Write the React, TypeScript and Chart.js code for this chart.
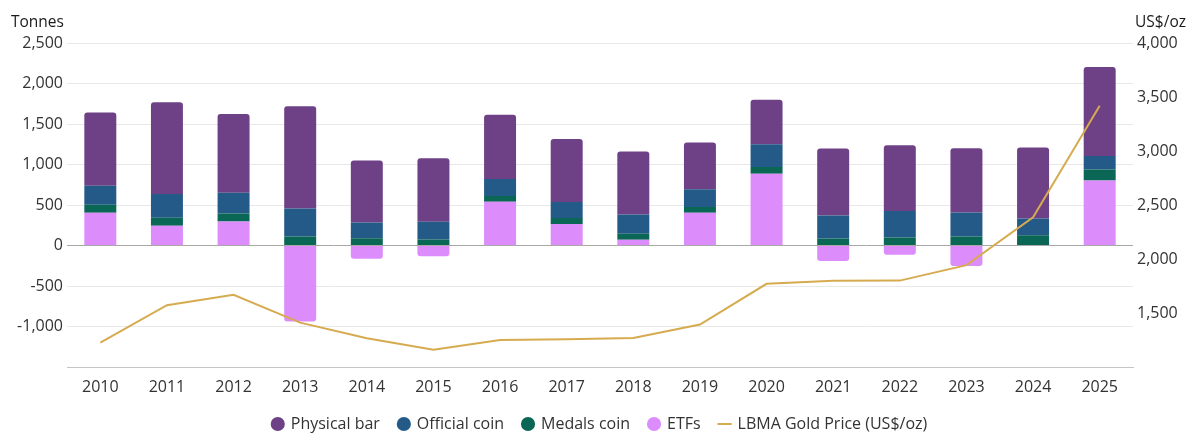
import { useEffect, useRef } from "react";
import { Chart, registerables } from "chart.js";

Chart.register(...registerables);

const years = [
  "2010", "2011", "2012", "2013", "2014", "2015", "2016", "2017",
  "2018", "2019", "2020", "2021", "2022", "2023", "2024", "2025",
];

// tonnes
const physicalBar = [903, 1135, 973, 1262, 763, 784, 792, 780, 776, 578, 548, 826, 813, 792, 875, 1098];
const officialCoin = [235, 292, 256, 347, 195, 219, 210, 198, 239, 219, 281, 284, 326, 297, 206, 168];
const medalsCoin = [99, 99, 99, 111, 90, 74, 70, 74, 75, 69, 82, 87, 99, 111, 128, 133];
const etfs = [405, 244, 297, -937, -165, -132, 541, 264, 70, 405, 887, -190, -115, -252, 0, 804];

// US$/oz
const goldPrice = [1226, 1572, 1669, 1411, 1266, 1160, 1251, 1257, 1268, 1393, 1770, 1799, 1800, 1943, 2386, 3420];

const FONT = "'Open Sans', 'Noto Sans', sans-serif";
const TEXT = "#333333";
const SIZE = 16;

// axis titles sit on top of the axes, not rotated
const axisTitles = {
  id: "axisTitles",
  afterDraw(chart: Chart) {
    const { ctx } = chart;
    ctx.save();
    ctx.font = `15.5px ${FONT}`;
    ctx.fillStyle = "#1a1a1a";
    ctx.textBaseline = "middle";
    ctx.textAlign = "left";
    ctx.fillText("Tonnes", 11, 23);
    ctx.textAlign = "right";
    ctx.fillText("US$/oz", 1186, 23);
    ctx.restore();
  },
};

export default function App() {
  const canvasRef = useRef<HTMLCanvasElement>(null);
  const chartRef = useRef<Chart | null>(null);

  useEffect(() => {
    if (!canvasRef.current) return;
    const ctx = canvasRef.current.getContext("2d");
    if (!ctx) return;

    if (chartRef.current) {
      chartRef.current.destroy();
      chartRef.current = null;
    }

    const barCommon = {
      type: "bar" as const,
      yAxisID: "y",
      stack: "demand",
      barPercentage: 0.48,
      categoryPercentage: 1,
      borderWidth: 0,
    };

    chartRef.current = new Chart(ctx, {
      type: "bar",
      data: {
        labels: years,
        datasets: [
          {
            ...barCommon,
            label: "Physical bar",
            data: physicalBar,
            backgroundColor: "#6e4186",
            borderRadius: 3,
            order: 4,
          },
          {
            ...barCommon,
            label: "Official coin",
            data: officialCoin,
            backgroundColor: "#245a87",
            order: 3,
          },
          {
            ...barCommon,
            label: "Medals coin",
            data: medalsCoin,
            backgroundColor: "#0a6655",
            order: 2,
          },
          {
            ...barCommon,
            label: "ETFs",
            data: etfs,
            backgroundColor: "#dc8cfb",
            borderRadius: (c: any) => ((c.raw ?? 0) < 0 ? 3 : 0),
            order: 1,
          },
          {
            type: "line",
            label: "LBMA Gold Price (US$/oz)",
            data: goldPrice,
            yAxisID: "y1",
            borderColor: "#d6ab50",
            backgroundColor: "#d6ab50",
            borderWidth: 2,
            pointRadius: 0,
            pointStyle: "line",
            tension: 0,
            order: 0,
          } as any,
        ],
      },
      options: {
        responsive: true,
        maintainAspectRatio: false,
        animation: false,
        layout: { padding: { top: 43, left: 0, right: 0, bottom: 4 } },
        plugins: {
          tooltip: { enabled: false },
          legend: {
            position: "bottom",
            labels: {
              sort: (a, b) => (a.datasetIndex ?? 0) - (b.datasetIndex ?? 0),
              usePointStyle: true,
              boxWidth: 10,
              boxHeight: 10,
              padding: 19,
              color: TEXT,
              font: { family: FONT, size: SIZE },
            },
          },
        },
        scales: {
          x: {
            afterFit: (s: any) => {
              s.height = 30;
            },
            grid: { display: false, drawTicks: false },
            border: { display: true, color: "#c4c4c4" },
            ticks: {
              color: TEXT,
              padding: 11,
              font: { family: FONT, size: SIZE },
            },
          },
          y: {
            position: "left",
            stacked: true,
            min: -1500,
            max: 2500,
            afterFit: (s: any) => {
              s.width = 67;
            },
            border: { display: false },
            grid: {
              drawTicks: false,
              color: (c: any) => (c.tick && c.tick.value === 0 ? "#a8a8a8" : "#e8e8e8"),
            },
            ticks: {
              stepSize: 500,
              padding: 4,
              color: TEXT,
              font: { family: FONT, size: SIZE },
              callback: (v: any) => (Number(v) === -1500 ? "" : Number(v).toLocaleString("en-US")),
            },
          },
          y1: {
            position: "right",
            min: 1000,
            max: 4000,
            afterFit: (s: any) => {
              s.width = 67;
            },
            border: { display: false },
            grid: { display: false, drawTicks: false },
            ticks: {
              stepSize: 500,
              padding: 4,
              color: TEXT,
              font: { family: FONT, size: SIZE },
              callback: (v: any) => (Number(v) === 1000 ? "" : Number(v).toLocaleString("en-US")),
            },
          },
        },
      },
      plugins: [axisTitles],
    });

    return () => {
      if (chartRef.current) {
        chartRef.current.destroy();
        chartRef.current = null;
      }
    };
  }, []);

  return (
    <div style={{ position: "fixed", left: 0, top: 0, width: 1200, height: 446, background: "#fff" }}>
      <canvas ref={canvasRef}></canvas>
    </div>
  );
}
